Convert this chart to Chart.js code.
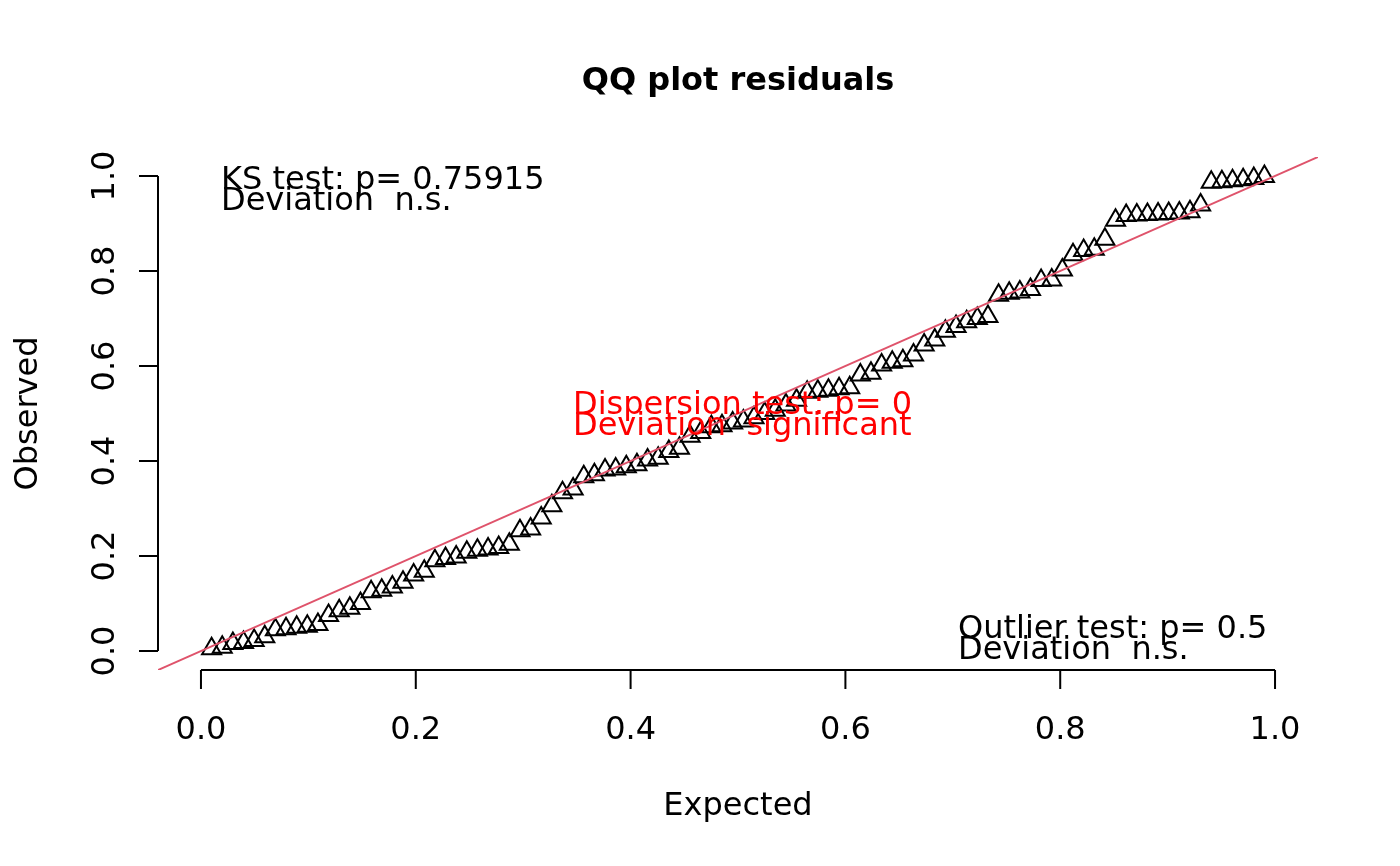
<!DOCTYPE html>
<html>
<head>
<meta charset="utf-8">
<title>QQ plot residuals</title>
<script src="https://cdn.jsdelivr.net/npm/chart.js@4.4.1/dist/chart.umd.min.js"></script>
<style>
  html, body { margin: 0; padding: 0; background: #fff; }
  canvas { display: block; }
</style>
</head>
<body>
<canvas id="qqChart" width="1400" height="866"></canvas>
<script>
// expected uniform quantiles (i / (n + 1)), n = 100
const expected = [
  0.0099, 0.0198, 0.0297, 0.0396, 0.0495, 0.0594, 0.0693, 0.0792, 0.0891, 0.0990,
  0.1089, 0.1188, 0.1287, 0.1386, 0.1485, 0.1584, 0.1683, 0.1782, 0.1881, 0.1980,
  0.2079, 0.2178, 0.2277, 0.2376, 0.2475, 0.2574, 0.2673, 0.2772, 0.2871, 0.2970,
  0.3069, 0.3168, 0.3267, 0.3366, 0.3465, 0.3564, 0.3663, 0.3762, 0.3861, 0.3960,
  0.4059, 0.4158, 0.4257, 0.4356, 0.4455, 0.4554, 0.4653, 0.4752, 0.4851, 0.4950,
  0.5050, 0.5149, 0.5248, 0.5347, 0.5446, 0.5545, 0.5644, 0.5743, 0.5842, 0.5941,
  0.6040, 0.6139, 0.6238, 0.6337, 0.6436, 0.6535, 0.6634, 0.6733, 0.6832, 0.6931,
  0.7030, 0.7129, 0.7228, 0.7327, 0.7426, 0.7525, 0.7624, 0.7723, 0.7822, 0.7921,
  0.8020, 0.8119, 0.8218, 0.8317, 0.8416, 0.8515, 0.8614, 0.8713, 0.8812, 0.8911,
  0.9010, 0.9109, 0.9208, 0.9307, 0.9406, 0.9505, 0.9604, 0.9703, 0.9802, 0.9901
];

// sorted scaled residuals
const observed = [
  0.005, 0.008, 0.016, 0.018, 0.022, 0.030, 0.045, 0.047, 0.050, 0.052,
  0.056, 0.075, 0.085, 0.090, 0.100, 0.125, 0.128, 0.135, 0.145, 0.160,
  0.168, 0.190, 0.195, 0.198, 0.208, 0.212, 0.215, 0.218, 0.225, 0.253,
  0.257, 0.280, 0.306, 0.333, 0.341, 0.367, 0.371, 0.381, 0.383, 0.388,
  0.392, 0.402, 0.406, 0.420, 0.427, 0.452, 0.460, 0.472, 0.474, 0.480,
  0.484, 0.491, 0.500, 0.507, 0.518, 0.528, 0.545, 0.547, 0.549, 0.552,
  0.554, 0.581, 0.585, 0.602, 0.608, 0.611, 0.623, 0.644, 0.655, 0.673,
  0.683, 0.693, 0.700, 0.704, 0.749, 0.753, 0.756, 0.761, 0.780, 0.781,
  0.802, 0.834, 0.843, 0.846, 0.867, 0.907, 0.917, 0.918, 0.919, 0.920,
  0.921, 0.922, 0.925, 0.939, 0.987, 0.988, 0.990, 0.992, 0.995, 0.999
];

const tickValues = [0, 0.2, 0.4, 0.6, 0.8, 1];
const tickLabels = ["0.0", "0.2", "0.4", "0.6", "0.8", "1.0"];
const axisLimits = [-0.04, 1.04];
const refLine = { intercept: 0, slope: 1 };

const titleText = "QQ plot residuals";
const xTitle = "Expected";
const yTitle = "Observed";
const ksText = ["KS test: p= 0.75915", "Deviation  n.s."];
const dispersionText = ["Dispersion test: p= 0", "Deviation  significant"];
const outlierText = ["Outlier test: p= 0.5", "Deviation  n.s."];

const FONT = "'DejaVu Sans', 'Noto Sans', sans-serif";

const points = expected.map((x, i) => ({ x: x, y: observed[i] }));
const linePoints = axisLimits.map((x) => ({ x: x, y: refLine.intercept + refLine.slope * x }));

// R style base graphics axes and annotations
const rDecorations = {
    id: "rDecorations",
    afterDraw(chart) {
        const ctx = chart.ctx;
        const xs = chart.scales.x;
        const ys = chart.scales.y;
        const area = chart.chartArea;
        const tick = 19;

        ctx.save();
        ctx.strokeStyle = "#000";
        ctx.fillStyle = "#000";
        ctx.lineWidth = 2;

        // x axis
        ctx.beginPath();
        ctx.moveTo(xs.getPixelForValue(tickValues[0]), area.bottom);
        ctx.lineTo(xs.getPixelForValue(tickValues[tickValues.length - 1]), area.bottom);
        tickValues.forEach((v) => {
            const px = xs.getPixelForValue(v);
            ctx.moveTo(px, area.bottom);
            ctx.lineTo(px, area.bottom + tick);
        });
        ctx.stroke();

        // y axis
        ctx.beginPath();
        ctx.moveTo(area.left, ys.getPixelForValue(tickValues[0]));
        ctx.lineTo(area.left, ys.getPixelForValue(tickValues[tickValues.length - 1]));
        tickValues.forEach((v) => {
            const py = ys.getPixelForValue(v);
            ctx.moveTo(area.left, py);
            ctx.lineTo(area.left - tick, py);
        });
        ctx.stroke();

        ctx.font = "32px " + FONT;
        ctx.textAlign = "center";
        ctx.textBaseline = "alphabetic";
        tickValues.forEach((v, i) => {
            ctx.fillText(tickLabels[i], xs.getPixelForValue(v), 739);
        });
        tickValues.forEach((v, i) => {
            ctx.save();
            ctx.translate(114, ys.getPixelForValue(v));
            ctx.rotate(-Math.PI / 2);
            ctx.fillText(tickLabels[i], 0, 0);
            ctx.restore();
        });

        // axis titles
        const midX = (area.left + area.right) / 2;
        const midY = (area.top + area.bottom) / 2;
        ctx.fillText(xTitle, midX, 815);
        ctx.save();
        ctx.translate(37, midY);
        ctx.rotate(-Math.PI / 2);
        ctx.fillText(yTitle, 0, 0);
        ctx.restore();

        // main title
        ctx.font = "bold 32px " + FONT;
        ctx.fillText(titleText, midX, 90);

        // test legends
        ctx.font = "32px " + FONT;
        ctx.textAlign = "left";
        ctx.fillText(ksText[0], 221, 189);
        ctx.fillText(ksText[1], 221, 210);
        ctx.fillText(outlierText[0], 958, 638);
        ctx.fillText(outlierText[1], 958, 659);
        ctx.fillStyle = "#FF0000";
        ctx.fillText(dispersionText[0], 573, 414);
        ctx.fillText(dispersionText[1], 573, 435);
        ctx.restore();
    }
};

new Chart(document.getElementById("qqChart"), {
    type: "scatter",
    data: {
        datasets: [
            {
                label: "1:1 line",
                data: linePoints,
                showLine: true,
                borderColor: "#DF536B",
                borderWidth: 2,
                pointRadius: 0,
                order: 0
            },
            {
                label: "residuals",
                data: points,
                pointStyle: "triangle",
                pointRadius: 11,
                pointHoverRadius: 11,
                pointBorderWidth: 2,
                borderColor: "#000",
                backgroundColor: "rgba(0,0,0,0)",
                order: 1
            }
        ]
    },
    options: {
        responsive: false,
        animation: false,
        devicePixelRatio: 1,
        layout: { padding: { left: 158, right: 82, top: 157, bottom: 196 } },
        scales: {
            x: { type: "linear", min: axisLimits[0], max: axisLimits[1], display: false },
            y: { type: "linear", min: axisLimits[0], max: axisLimits[1], display: false }
        },
        plugins: {
            legend: { display: false },
            tooltip: { enabled: false }
        }
    },
    plugins: [rDecorations]
});
</script>
</body>
</html>
